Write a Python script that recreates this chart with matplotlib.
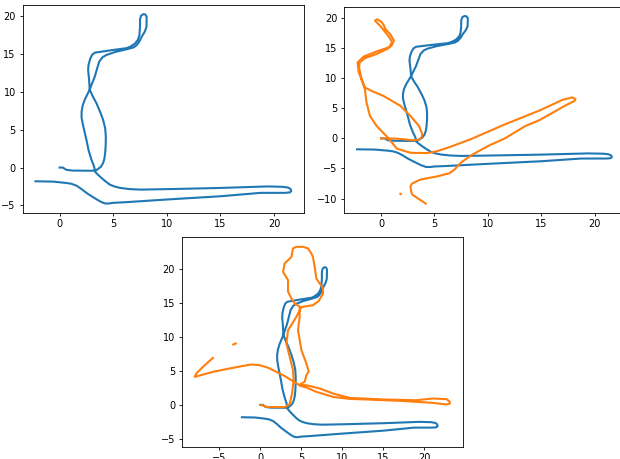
import numpy as np
import matplotlib
matplotlib.use('Agg')
import matplotlib.pyplot as plt
from matplotlib.ticker import MultipleLocator

nan = np.nan

# reference trajectory (blue), same in all three panels
ref_x = [0.0, 0.3, 0.62, 1.2, 2.5, 3.1, 3.3, 3.15, 2.97, 2.7,
         2.5, 2.2, 2.05, 2.05, 2.15, 2.34, 2.8, 3.28, 3.5, 3.69,
         4.0, 4.37, 5.2, 6.25, 6.9, 7.19, 7.45, 7.65, 7.95, 8.1,
         8.12, 8.0, 7.81, 7.6, 7.5, 7.5, 7.44, 7.3, 7.03, 6.6,
         6.25, 4.69, 3.28, 3.05, 2.87, 2.7, 2.66, 2.75, 2.81, 3.1,
         3.44, 3.8, 4.06, 4.25, 4.31, 4.3, 4.25, 4.18, 4.06, 3.85,
         3.59, 3.28, 3.5, 3.9, 4.3, 4.69, 5.1, 5.62, 6.5, 7.5,
         10.3, 15.0, 19.4, 20.8, 21.3, 21.55, 21.6, 21.45, 21.0, 18.75,
         15.0, 10.0, 6.0, 5.0, 4.6, 4.2, 3.75, 3.1, 2.5, 2.0,
         1.56, 1.1, 0.62, -0.62, -2.25]
ref_y = [0.0, 0.0, -0.3, -0.4, -0.42, -0.42, -0.3, 0.4, 1.04, 2.3,
         3.68, 5.5, 6.6, 7.4, 8.2, 8.96, 10.3, 12.03, 13.1, 14.0,
         14.6, 14.9, 15.3, 15.65, 15.9, 16.2, 16.7, 17.3, 18.0, 18.6,
         19.95, 20.25, 20.3, 20.1, 19.6, 18.6, 17.5, 16.9, 16.4, 16.0,
         15.8, 15.5, 15.2, 14.95, 14.46, 13.6, 12.9, 11.6, 10.3, 9.4,
         8.5, 7.3, 6.3, 5.2, 4.1, 3.0, 1.93, 1.2, 0.6, 0.1,
         -0.18, -0.5, -0.85, -1.37, -1.85, -2.26, -2.5, -2.69, -2.85, -2.92,
         -2.85, -2.7, -2.5, -2.55, -2.65, -2.85, -3.14, -3.3, -3.35, -3.35,
         -3.8, -4.23, -4.6, -4.67, -4.76, -4.75, -4.46, -3.9, -3.35, -2.8,
         -2.39, -2.15, -2.04, -1.86, -1.82]

# estimated trajectory, run 1 (top right)
est1_x = [0.0, 1.5, 3.07, 3.55, 3.8, 3.86, 3.55, 2.75, 1.8, 0.22,
          -0.8, -1.52, -1.83, -2.06, -2.0, -1.52, -0.41, 0.7, 1.02, 0.8,
          0.54, -0.1, -0.45, -0.57, -0.35, 0.06, 0.25, 0.38, 0.9, 1.2,
          0.95, 0.4, -0.3, -1.6, -2.2, -2.1, -1.7, -1.52, -1.36, -1.04,
          -0.41, 0.54, 1.49, 2.75, 4.34, 5.3, 6.5, 8.45, 11.6, 14.8,
          17.0, 17.9, 18.2, 18.1, 17.3, 14.8, 13.5, 11.6, 10.0, 8.45,
          7.5, 6.87, 6.4, 5.92, 5.3, 3.7, 2.9, 2.75, 2.82, 2.9,
          3.39, 4.18, nan, 1.8, 1.86]
est1_y = [0.0, -0.05, -0.33, -0.2, 0.2, 0.67, 2.05, 3.72, 5.4, 7.05,
          7.8, 8.45, 9.8, 11.8, 12.6, 13.3, 14.0, 14.95, 15.95, 16.7,
          17.3, 18.7, 19.3, 19.55, 19.75, 19.3, 18.8, 18.2, 17.2, 16.2,
          15.3, 14.9, 14.5, 13.6, 12.6, 11.0, 9.2, 8.17, 5.95, 3.72,
          2.05, 0.3, -1.72, -2.4, -2.45, -2.1, -1.4, -0.1, 2.33, 4.6,
          6.4, 6.8, 6.5, 6.2, 5.5, 3.0, 2.05, 0.0, -1.28, -2.8,
          -4.0, -5.17, -5.8, -6.0, -6.3, -6.83, -7.5, -7.95, -8.78, -9.3,
          -9.9, -10.83, nan, -9.2, -9.25]

# estimated trajectory, run 2 (bottom)
est2_x = [0.0, 0.3, 0.73, 2.96, 3.57, 3.86, 4.06, 3.98, 3.57, 3.17,
          3.37, 4.0, 4.39, 5.0, 5.4, 6.41, 7.1, 7.63, 7.63, 6.83,
          6.62, 6.41, 6.22, 5.8, 5.2, 4.39, 3.98, 3.78, 2.96, 2.76,
          3.37, 3.37, 3.37, 3.78, 4.18, 4.79, 4.79, 4.59, 4.8, 5.0,
          5.61, 5.9, 5.61, 5.4, 5.0, 4.79, 5.61, 7.23, 8.85, 10.9,
          14.95, 19.0, 21.0, 22.7, 23.05, 23.1, 22.7, 21.0, 17.0, 12.9,
          10.9, 8.85, 6.83, 5.61, 5.0, 3.78, 2.9, 1.95, 1.0, -0.1,
          -1.1, -2.1, -3.74, -5.78, -8.0, -7.8, -7.0, -5.78, nan, -3.3,
          -3.0]
est2_y = [0.0, -0.1, -0.3, -0.34, 0.1, 1.68, 3.64, 5.1, 7.1, 9.05,
          11.0, 12.2, 13.0, 14.4, 14.5, 14.7, 15.3, 16.4, 17.2, 18.6,
          20.35, 21.8, 22.3, 23.07, 23.3, 23.3, 23.07, 21.8, 20.85, 19.6,
          18.4, 17.5, 16.7, 15.7, 14.95, 14.5, 13.0, 11.0, 9.5, 8.07,
          6.1, 4.9, 4.38, 3.4, 3.15, 2.9, 2.9, 2.42, 1.68, 1.03,
          0.8, 0.69, 0.94, 0.85, 0.5, 0.2, 0.06, 0.3, 0.6, 0.8,
          0.88, 1.18, 1.92, 2.57, 2.75, 3.64, 4.3, 4.87, 5.45, 5.86,
          5.95, 5.75, 5.37, 4.87, 4.13, 4.63, 5.6, 6.93, nan, 8.9,
          9.05]

plt.rcParams['font.size'] = 7
plt.rcParams['axes.linewidth'] = 0.6
plt.rcParams['xtick.major.size'] = 2.5
plt.rcParams['ytick.major.size'] = 2.5
plt.rcParams['xtick.major.width'] = 0.6
plt.rcParams['ytick.major.width'] = 0.6
plt.rcParams['xtick.major.pad'] = 2.0
plt.rcParams['ytick.major.pad'] = 2.5

fig = plt.figure(figsize=(6.2, 4.59), dpi=100)
ax1 = fig.add_axes([0.0366, 0.536, 0.4537, 0.4538])
ax2 = fig.add_axes([0.5553, 0.536, 0.4521, 0.4495])
ax3 = fig.add_axes([0.2935, 0.0268, 0.4527, 0.4562])

ax1.plot(ref_x, ref_y, color='tab:blue', lw=1.5)

ax2.plot(ref_x, ref_y, color='tab:blue', lw=1.5)
ax2.plot(est1_x, est1_y, color='tab:orange', lw=1.5)

ax3.plot(ref_x, ref_y, color='tab:blue', lw=1.5)
ax3.plot(est2_x, est2_y, color='tab:orange', lw=1.5)

for ax in (ax1, ax2, ax3):
    ax.xaxis.set_major_locator(MultipleLocator(5))
    ax.yaxis.set_major_locator(MultipleLocator(5))

fig.savefig('out.png', dpi=100)
